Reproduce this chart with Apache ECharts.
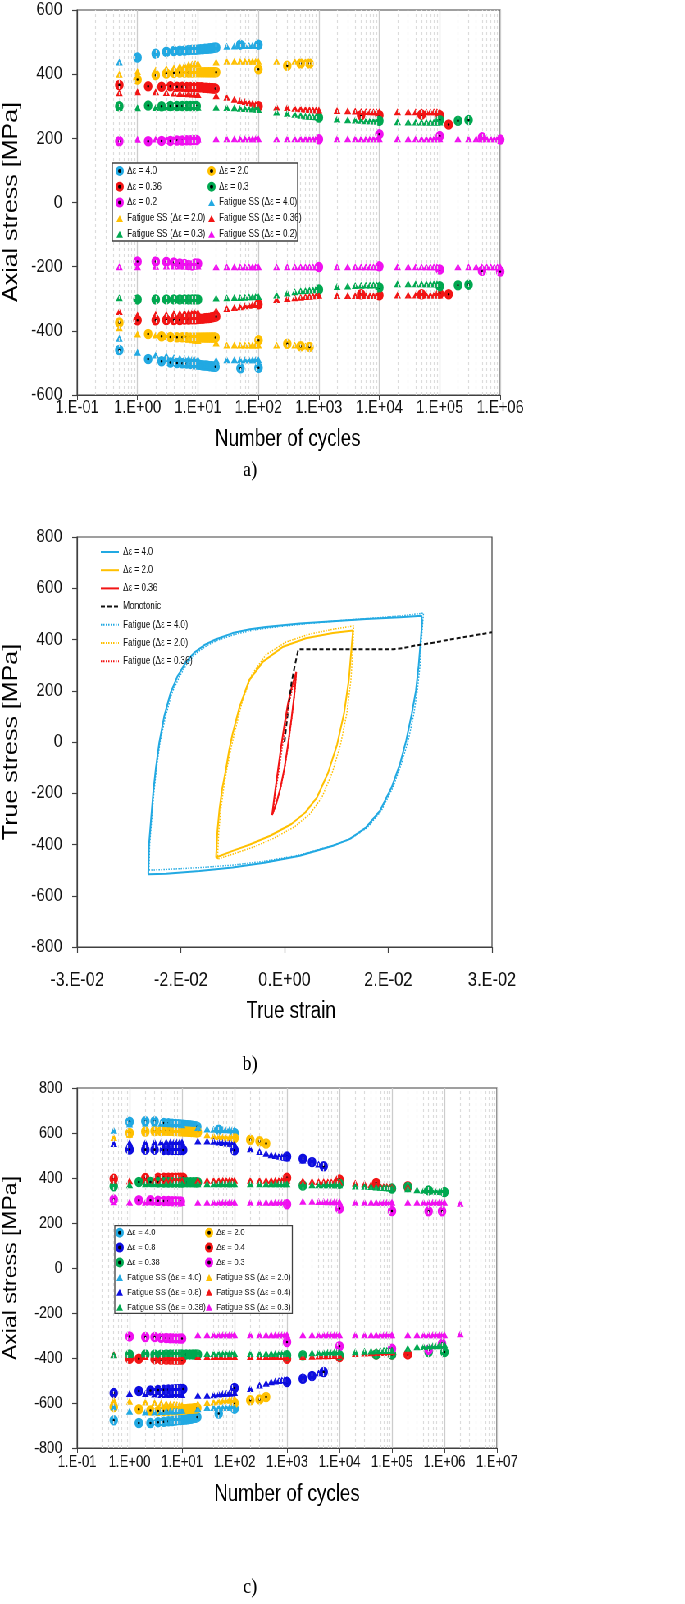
<!DOCTYPE html>
<html>
<head>
<meta charset="utf-8">
<script src="https://cdn.jsdelivr.net/npm/echarts@6/dist/echarts.min.js"></script>
<style>
html, body { margin: 0; padding: 0; background: #fff; overflow: hidden; }
/* the reference figure is squeezed horizontally, so the charts are drawn wider and scaled */
#wrap { position: absolute; left: 0; top: 0; width: 835px; height: 1604px; transform: scaleX(0.82); transform-origin: 0 0; }
.fig { position: absolute; left: 0; width: 835px; }
#fig-a { top: 0; height: 490px; }
#fig-b { top: 490px; height: 585px; }
#fig-c { top: 1075px; height: 529px; }
</style>
</head>
<body>
<div id="wrap">
  <div id="fig-a" class="fig"></div>
  <div id="fig-b" class="fig"></div>
  <div id="fig-c" class="fig"></div>
</div>
<script>
// ---------- data ----------
// cycle counts of the "Fatigue SS" points (value arrays below are aligned with it)
const cyclesSS = [0.5, 1, 2, 3, 4, 5, 6, 7, 8, 9, 10, 20, 30, 40, 50, 60, 70, 80, 90, 100,
  200, 300, 400, 500, 600, 700, 800, 900, 1000, 2000, 3000, 4000, 5000, 6000, 7000, 8000, 9000, 10000,
  20000, 30000, 40000, 50000, 60000, 70000, 80000, 90000, 100000,
  200000, 300000, 400000, 500000, 600000, 700000, 800000, 900000, 1000000, 2000000]

const aTicks = ['1.E-01', '1.E+00', '1.E+01', '1.E+02', '1.E+03', '1.E+04', '1.E+05', '1.E+06']
const cTicks = ['1.E-01', '1.E+00', '1.E+01', '1.E+02', '1.E+03', '1.E+04', '1.E+05', '1.E+06', '1.E+07']
const bTicks = ['-3.E-02', '-2.E-02', '0.E+00', '2.E-02', '3.E-02']

// a) experiments [cycles, stress]
const aExp40 = [[1, 452], [2, 464], [3, 470], [4, 472], [5, 473], [6, 474], [7, 475], [8, 476], [9, 476], [10, 477],
  [11, 478], [12, 478], [13, 479], [14, 479], [15, 480], [16, 481], [17, 481], [18, 482], [19, 482], [20, 483], [50, 492], [100, 492],
  [0.5, -460], [1.5, -488], [2.5, -495], [3.5, -499], [4.5, -500], [5.5, -501], [6.5, -502], [7.5, -503], [8.5, -504], [9.5, -505],
  [10.5, -506], [11.5, -507], [12.5, -508], [13.5, -508], [14.5, -509], [15.5, -510], [16.5, -510], [17.5, -511], [18.5, -511], [19.5, -512],
  [50.5, -517], [100.5, -515]]
const aExp20 = [[1, 383], [2, 397], [3, 402], [4, 404], [5, 405], [6, 405], [7, 405], [8, 405], [9, 406], [10, 406],
  [11, 406], [12, 406], [13, 406], [14, 406], [15, 406], [16, 406], [17, 406], [18, 406], [19, 406], [20, 406],
  [100, 415], [300, 426], [500, 433], [700, 433],
  [0.5, -374], [1.5, -410], [2.5, -417], [3.5, -419], [4.5, -420], [5.5, -420], [6.5, -420], [7.5, -421], [8.5, -421], [9.5, -421],
  [10.5, -421], [11.5, -421], [12.5, -421], [13.5, -421], [14.5, -421], [15.5, -421], [16.5, -421], [17.5, -421], [18.5, -421], [19.5, -421],
  [100.5, -429], [300.5, -440], [500.5, -448], [700.5, -450]]
const aExp036 = [[0.5, 366], [1.5, 362], [2.5, 361], [3.5, 362], [4.5, 361], [5.5, 361], [6.5, 360], [7.5, 360], [8.5, 360], [9.5, 360],
  [10.5, 359], [11.5, 359], [12.5, 358], [13.5, 358], [14.5, 357], [15.5, 357], [16.5, 356], [17.5, 356], [18.5, 355], [19.5, 355],
  [100.5, 300], [5000, 272], [10000, 272], [50000, 274], [100000, 272], [140000, 243],
  [1, -367], [2, -367], [3, -366], [4, -366], [5, -366], [6, -365], [7, -365], [8, -364], [9, -364], [10, -363],
  [11, -362], [12, -362], [13, -361], [14, -360], [15, -360], [16, -359], [17, -358], [18, -357], [19, -356], [20, -355],
  [100, -317], [5000, -286], [10000, -289], [50000, -286], [100000, -284], [140000, -286]]
const aExp03 = [[0.5, 300], [1.5, 302], [2.5, 300], [3.5, 301], [4.5, 301], [5.5, 301], [6.5, 301], [7.5, 301], [8.5, 301], [9.5, 301],
  [1000, 265], [10000, 255], [100000, 257], [200000, 255], [300000, 257],
  [1, -302], [2, -302], [3, -302], [4, -302], [5, -302], [6, -302], [7, -302], [8, -302], [9, -302], [10, -302],
  [1000, -271], [10000, -265], [100000, -261], [200000, -258], [300000, -256]]
const aExp02 = [[0.5, 191], [1.5, 191], [2.5, 192], [3.5, 192], [4.5, 193], [5.5, 193], [6.5, 194], [7.5, 194], [8.5, 195], [9.5, 195],
  [1000, 197], [10000, 213], [100000, 207], [500000, 203], [1000000, 196],
  [1, -184], [2, -184], [3, -185], [4, -187], [5, -190], [6, -192], [7, -195], [8, -196], [9, -190], [10, -190],
  [1000, -201], [10000, -199], [100000, -209], [500000, -213], [1000000, -215]]

// a) Fatigue SS, tension (T) and compression (C) peaks
const aSS40T = [438, 452, 462, 468, 472, 474, 476, 477, 478, 479, 480, 485, 487, 488, 489, 489, 489, 490, 490, 490]
const aSS40C = [-423, -467, -475, -478, -483, -485, -486, -487, -488, -489, -490, -492, -490, -490, -490, -490, -490, -490, -490, -490]
const aSS20T = [400, 408, 413, 418, 420, 425, 428, 430, 432, 433, 433, 438, 440, 440, 440, 440, 440, 440, 440, 440, 440, null, 440, null, 440]
const aSS20C = [-390, -410, -413, -418, -420, -422, -424, -426, -428, -429, -430, -438, -444, -444, -444, -444, -444, -444, -444, -444, -444, null, -444, null, -447]
const aSS036T = [342, 345, 345, 343, 341, 340, 340, 339, 338, 338, 337, 333, 328, 322, 318, 315, 312, 309, 306, 303,
  298, 296, 294, 292, 291, 290, 289, 289, 288, 287, 286, 285, 284, 284, 283, 283, 283, 283,
  283, 283, 283, 283, 283, 283, 283, 283, 283]
const aSS036C = [-340, -351, -348, -348, -345, -345, -344, -344, -343, -343, -343, -337, -330, -327, -325, -322, -320, -318, -316, -315,
  -302, -299, -297, -295, -293, -292, -291, -290, -289, -290, -290, -290, -290, -290, -290, -290, -290, -290,
  -288, -288, -288, -288, -288, -288, -288, -288, -288]
const aSS03T = [296, 295, 296, 297, 297, 298, 298, 298, 297, 297, 297, 297, 296, 295, 294, 293, 292, 292, 291, 290,
  282, 278, 275, 272, 270, 269, 268, 267, 266, 260, 258, 257, 256, 255, 255, 254, 254, 254,
  252, 251, 251, 251, 251, 251, 251, 251, 251]
const aSS03C = [-297, -300, -298, -298, -298, -298, -298, -298, -298, -298, -298, -298, -297, -296, -296, -295, -294, -294, -293, -293,
  -288, -282, -278, -275, -274, -273, -272, -271, -270, -262, -260, -259, -258, -257, -257, -256, -256, -256,
  -253, -253, -253, -253, -253, -253, -253, -253, -253]
const aSS02T = [null, 197, 198, 198, 198, 198, 198, 198, 198, 198, 198, 199, 199, 199, 199, 199, 199, 199, 199, 199,
  199, 199, 199, 199, 199, 199, 199, 199, 199, 199, 199, 199, 199, 199, 199, 199, 199, 199,
  199, 199, 199, 199, 199, 199, 199, 199, 199, 199, 199, 199, 199, 199, 199, 199, 199, 199]
const aSS02C = [-200, -200, -199, -198, -198, -198, -198, -198, -198, -198, -198, -200, -200, -200, -200, -200, -200, -200, -200, -200,
  -200, -200, -200, -200, -200, -200, -200, -200, -200, -200, -200, -200, -200, -200, -200, -200, -200, -200,
  -200, -200, -200, -200, -200, -200, -200, -200, -200, -200, -200, -200, -200, -200, -200, -200, -200, -200]

// b) hysteresis loops [strain, stress]
const bLoop40 = [[-0.0197, -513], [-0.0196, -400], [-0.0193, -300], [-0.0190, -200], [-0.0186, -100], [-0.0181, 0], [-0.0174, 100],
  [-0.0165, 190], [-0.0155, 255], [-0.0143, 310], [-0.0130, 350], [-0.0115, 380], [-0.0100, 400], [-0.0075, 425], [-0.0050, 440],
  [-0.0027, 449], [0.0022, 462], [0.0070, 471], [0.0118, 480], [0.0167, 487], [0.0198, 493],
  [0.0199, 470], [0.0197, 400], [0.0194, 300], [0.0190, 200], [0.0184, 110], [0.0176, 7], [0.0167, -85], [0.0155, -176],
  [0.0138, -268], [0.0118, -333], [0.0094, -379], [0.0070, -405], [0.0022, -444], [-0.0027, -470], [-0.0075, -490],
  [-0.0123, -503], [-0.0171, -514], [-0.0197, -516]]
const bLoop20 = [[-0.0099, -451], [-0.0097, -346], [-0.0094, -260], [-0.0090, -180], [-0.0085, -111], [-0.0080, -30], [-0.0075, 33],
  [-0.0065, 137], [-0.0051, 242], [-0.0031, 314], [-0.0002, 372], [0.0031, 405], [0.0070, 425], [0.0099, 435],
  [0.0097, 372], [0.0093, 242], [0.0086, 111], [0.0076, -10], [0.0063, -120], [0.0047, -216], [0.0030, -275],
  [0.0010, -320], [-0.0020, -365], [-0.0050, -400], [-0.0075, -425], [-0.0099, -451]]
const bLoop036 = [[-0.0018, -285], [-0.0014, -200], [-0.0010, -120], [-0.0005, -20], [0.0000, 70], [0.0005, 150], [0.0010, 210],
  [0.0017, 274], [0.0014, 180], [0.0010, 90], [0.0005, -10], [0.0000, -100], [-0.0006, -180], [-0.0012, -240], [-0.0018, -285]]
const bMono = [[0, 0], [0.0005, 120], [0.0010, 230], [0.0015, 300], [0.0020, 362], [0.0080, 362], [0.0157, 362],
  [0.0170, 366], [0.0190, 377], [0.0210, 385], [0.0250, 405], [0.0300, 428]]
const bFat40 = [[-0.0196, -500], [-0.0195, -400], [-0.0192, -300], [-0.0189, -200], [-0.0185, -100], [-0.0180, 0], [-0.0172, 100],
  [-0.0163, 190], [-0.0152, 255], [-0.0140, 310], [-0.0127, 348], [-0.0112, 377], [-0.0097, 397], [-0.0072, 420], [-0.0047, 436],
  [-0.0022, 446], [0.0025, 460], [0.0072, 472], [0.0120, 482], [0.0168, 492], [0.0201, 503],
  [0.0200, 470], [0.0198, 400], [0.0196, 300], [0.0192, 200], [0.0187, 110], [0.0179, 7], [0.0169, -85], [0.0157, -176],
  [0.0140, -268], [0.0120, -333], [0.0096, -377], [0.0072, -402], [0.0024, -440], [-0.0025, -464], [-0.0073, -480],
  [-0.0121, -490], [-0.0169, -497], [-0.0196, -500]]
const bFat20 = [[-0.0097, -457], [-0.0095, -346], [-0.0092, -260], [-0.0088, -180], [-0.0083, -100], [-0.0077, -20], [-0.0071, 50],
  [-0.0061, 160], [-0.0047, 265], [-0.0027, 340], [0.0002, 390], [0.0035, 420], [0.0070, 440], [0.0100, 453],
  [0.0099, 372], [0.0096, 242], [0.0090, 111], [0.0081, -10], [0.0069, -120], [0.0054, -216], [0.0037, -280],
  [0.0015, -330], [-0.0015, -375], [-0.0045, -410], [-0.0072, -435], [-0.0097, -457]]
const bFat036 = [[-0.0017, -280], [-0.0013, -195], [-0.0008, -110], [-0.0003, -15], [0.0002, 75], [0.0007, 155], [0.0012, 215],
  [0.0017, 270], [0.0015, 200], [0.0011, 105], [0.0006, 0], [0.0001, -90], [-0.0005, -175], [-0.0011, -235], [-0.0017, -280]]

// c) experiments [cycles, stress]
const cExp40 = [[1, 650], [2, 652], [3, 652], [4.5, 645], [5.5, 643], [6.5, 641], [7.5, 640], [8.5, 639], [9.5, 638], [10.5, 637],
  [11.5, 636], [12.5, 635], [13.5, 634], [14.5, 633], [15.5, 632], [16.5, 631], [17.5, 630], [18.5, 629], [19.5, 628], [50, 615], [100, 600],
  [0.5, -677], [1.5, -689], [2.5, -689], [3.5, -685], [4.5, -683], [5.5, -681], [6.5, -680], [7.5, -678], [8.5, -676], [9.5, -675],
  [10.5, -674], [11.5, -673], [12.5, -672], [13.5, -671], [14.5, -670], [15.5, -668], [16.5, -667], [17.5, -666], [18.5, -664], [19.5, -662],
  [50, -647], [100, -625]]
const cExp20 = [[1, 600], [2, 607], [3, 609], [4, 609], [5, 610], [6, 610], [7, 609], [8, 609], [9, 608], [10, 608],
  [11, 607], [12, 607], [13, 606], [14, 606], [15, 605], [16, 605], [17, 604], [18, 604], [19, 603], [20, 603],
  [100, 578], [200, 570], [300, 563], [400, 553],
  [0.5, -618], [1.5, -628], [2.5, -633], [3.5, -636], [4.5, -635], [5.5, -634], [6.5, -633], [7.5, -632], [8.5, -631], [9.5, -630],
  [10.5, -629], [11.5, -628], [12.5, -627], [13.5, -626], [14.5, -626], [15.5, -625], [16.5, -624], [17.5, -623], [18.5, -623], [19.5, -622],
  [100, -600], [200, -588], [300, -584], [400, -573]]
const cExp08 = [[1, 527], [2, 526], [3, 526], [4.5, 525], [5.5, 525], [6.5, 525], [7.5, 525], [8.5, 525], [9.5, 525], [10.5, 525],
  [100, 523], [1000, 496], [2000, 486], [3000, 471], [5000, 452],
  [0.5, -556], [1.5, -547], [2.5, -544], [3.5, -542], [4.5, -541], [5.5, -540], [6.5, -540], [7.5, -539], [8.5, -539], [9.5, -538],
  [10.5, -538], [100, -533], [1000, -507], [2000, -492], [3000, -480], [5000, -462]]
const cExp04 = [[0.5, 397], [2, 400], [3.5, 401], [4.5, 401], [5.5, 401], [6.5, 401], [7.5, 401], [8.5, 401], [9.5, 401], [10.5, 401],
  [1000, 401], [10000, 393], [50000, 378], [200000, 363],
  [1, -403], [1.5, -403], [3, -405], [4, -407], [5, -407], [6, -407], [7, -407], [8, -407], [9, -407], [10, -407],
  [1000, -403], [10000, -396], [50000, -384], [100000, -384], [200000, -384]]
const cExp038 = [[0.5, 363], [1.5, 382], [2.5, 382], [3.5, 381], [4.5, 381], [5.5, 381], [6.5, 381], [7.5, 381], [8.5, 381], [9.5, 381],
  [10.5, 381], [12.5, 381], [14.5, 381], [16.5, 381], [18.5, 381], [20, 381],
  [2000, 367], [10000, 375], [100000, 353], [200000, 360], [500000, 345], [1000000, 338],
  [1, -384], [2, -384], [3, -384], [4, -384], [5, -384], [6, -384], [7, -384], [8, -384], [9, -384], [10, -384],
  [12, -384], [14, -384], [16, -384], [18, -384], [20, -384],
  [1000, -388], [2000, -388], [10000, -388], [50000, -384], [100000, -384], [500000, -373], [1000000, -373]]
const cExp03 = [[0.5, 305], [1.5, 301], [2.5, 301], [3.5, 299], [4.5, 298], [5.5, 298], [6.5, 297], [7.5, 297], [8.5, 296], [9.5, 296],
  [1000, 283], [10000, 264], [100000, 253], [500000, 252], [900000, 252],
  [1, -304], [2, -307], [3, -307], [4, -310], [5, -311], [6, -312], [7, -312], [8, -313], [9, -313], [10, -313],
  [1000, -329], [10000, -348], [100000, -359], [500000, -363], [900000, -336]]

// c) Fatigue SS
const cSS40T = [612, 640, 645, 645, 643, 642, 641, 640, 639, 638, 637, 625, 618, 617, 616, 616, 615, 615, 615, 615]
const cSS40C = [-617, -637, -640, -640, -638, -637, -636, -635, -634, -633, -632, -625, -620, -620, -620, -620, -620, -620, -620, -620]
const cSS20T = [580, 595, 603, 605, 605, 605, 605, 605, 604, 604, 604, 600, 592, 588, 585, 583, 581, 580, 579, 578]
const cSS20C = [-585, -592, -595, -598, -600, -602, -604, -606, -607, -608, -610, -603, -598, -595, -592, -590, -588, -586, -583, -580]
const cSS08T = [553, 557, 558, 560, 560, 560, 560, 560, 560, 560, 560, 565, 565, 563, 560, 558, 556, 554, 552, 550,
  530, 518, 510, 503, 500, 497, 494, 492, 490, 480, 470, 462]
const cSS08C = [null, -558, -558, -560, -562, -562, -562, -562, -562, -562, -562, -565, -565, -563, -560, -558, -557, -556, -555, -553,
  -535, -520, -512, -505, -502, -500, -498, -496, -495, -480, -473, -465]
const cSS04T = [390, 388, 390, 390, 390, 390, 390, 390, 390, 390, 390, 390, 390, 390, 390, 390, 390, 390, 390, 390,
  390, 390, 390, 390, 390, 390, 390, 390, 390, 388, 386, 385, 384, 383, 383, 382, 382, 382,
  378, 374, 371, 369, 367, 365, 363, 361, 360, 360]
const cSS04C = [-383, -395, -393, -393, -393, -393, -393, -393, -393, -393, -393, -393, -393, -393, -393, -393, -393, -393, -393, -393,
  -393, -393, -393, -393, -393, -393, -393, -393, -393, -393, -392, -391, -390, -390, -389, -389, -388, -388,
  -380, -378, -377, -376, -375, -374, -373, -372, -372, -370]
const cSS038T = [368, 370, 374, 374, 374, 374, 374, 374, 374, 374, 374, 374, 374, 374, 374, 374, 374, 374, 374, 374,
  374, 374, 374, 374, 374, 374, 374, 374, 374, 372, 370, 370, 370, 370, 370, 370, 370, 370,
  365, 363, 362, 360, 359, 358, 357, 356, 355, 352, 348, 346, 344, 342, 341, 340, 339, 338]
const cSS038C = [-385, -384, -380, -380, -380, -380, -380, -380, -380, -380, -380, -380, -380, -380, -380, -380, -380, -380, -380, -380,
  -380, -380, -380, -380, -380, -380, -380, -380, -380, -378, -377, -376, -375, -374, -374, -373, -373, -372,
  -372, -370, -369, -368, -367, -366, -366, -365, -365, -357, -350, -349, -348, -346, -345, -343, -342, -340]
const cSS03T = [295, 292, 292, 292, 292, 292, 292, 292, 292, 292, 292, 292, 292, 292, 292, 292, 292, 292, 292, 292,
  292, 292, 292, 292, 292, 292, 292, 292, 292, 297, 297, 296, 296, 295, 295, 295, 295, 295,
  292, 292, 292, 292, 292, 292, 292, 292, 292, 292, 292, 292, 292, 292, 292, 292, 292, 292, 288]
const cSS03C = [null, null, null, null, null, null, null, null, null, null, null, -297, -297, -297, -297, -297, -297, -297, -297, -297,
  -297, -297, -297, -297, -297, -297, -297, -297, -297, -297, -297, -297, -297, -297, -297, -297, -297, -297,
  -297, -297, -297, -297, -297, -297, -297, -297, -297, -297, -297, -297, -297, -297, -297, -297, -297, -297, -292]

// ---------- styling ----------
const FONT = "'Liberation Sans', Arial, sans-serif"
const SERIF = "'Liberation Serif', 'Times New Roman', serif"
const AXIS = '#404040'
const TXT = '#111'
const LBLUE = '#22A9E2'
const GOLD = '#FFC000'
const RED = '#F21414'
const GREEN = '#00A850'
const MAGENTA = '#F010F0'
const DBLUE = '#0D0DE0'

function pairs(ns, vals) {
  const out = []
  vals.forEach((v, i) => { if (v !== null) out.push([ns[i], v]) })
  return out
}

function expSeries(name, color, data) {
  return {
    name, type: 'scatter', data, symbol: 'circle', symbolSize: 6.5, z: 3,
    itemStyle: { color: '#000', borderColor: color, borderWidth: 4, opacity: 1 },
  }
}

function ssSeries(name, color, t, c) {
  return {
    name, type: 'scatter', data: pairs(cyclesSS, t).concat(pairs(cyclesSS, c)),
    symbol: 'triangle', symbolSize: [8.5, 7], z: 4, itemStyle: { color, opacity: 1 },
  }
}

function lineSeries(name, color, data, type, width) {
  return {
    name, type: 'line', data, symbol: 'none', showSymbol: false, z: 3,
    lineStyle: { color, width, type }, itemStyle: { color },
  }
}

// dashed minor grid lines at 2..9 of every decade
function minorGrid(decades) {
  const lines = []
  decades.forEach(d => {
    for (let k = 2; k <= 9; k++) lines.push({ xAxis: d * k })
  })
  return {
    type: 'line', data: [[1, 0]], showSymbol: false, lineStyle: { opacity: 0 }, silent: true, z: 1,
    markLine: {
      silent: true, symbol: ['none', 'none'], label: { show: false }, animation: false,
      lineStyle: { color: '#dcdcdc', type: [3, 3], width: 1.2 }, data: lines,
    },
  }
}

function cyclesAxis(max, labels, fontSize, margin) {
  return {
    type: 'log', logBase: 10, min: 0.1, max,
    axisLine: { show: true, onZero: false, lineStyle: { color: AXIS, width: 1 } },
    axisTick: { show: true, length: 5, lineStyle: { color: AXIS } },
    axisLabel: {
      fontSize, fontFamily: FONT, color: TXT, margin, showMinLabel: true, showMaxLabel: true,
      formatter: v => labels[Math.round(Math.log10(v)) + 1],
    },
    splitLine: { show: true, lineStyle: { color: '#cccccc', width: 1.3 } },
  }
}

function stressAxis(lim, fontSize) {
  return {
    type: 'value', min: -lim, max: lim, interval: 200,
    axisLine: { show: true, onZero: false, lineStyle: { color: AXIS, width: 1.2 } },
    axisTick: { show: true, length: 6, lineStyle: { color: AXIS, width: 1.2 } },
    axisLabel: { fontSize, fontFamily: FONT, color: TXT, margin: 18 },
    splitLine: { show: false },
  }
}

function legendCol(names, left, top, gap, fontSize) {
  return {
    orient: 'vertical', left, top, padding: 0, itemGap: gap, itemWidth: 8, itemHeight: 7,
    selectedMode: false, z: 20,
    textStyle: { fontSize, fontFamily: FONT, color: TXT, lineHeight: 12 },
    data: names.map(n => (n.startsWith('Fatigue') ? { name: n } : { name: n, itemStyle: { borderWidth: 3 } })),
  }
}

function text(str, x, y, size, rotate, family) {
  return {
    type: 'text', x, y, rotation: rotate ? Math.PI / 2 : 0, z: 30,
    style: {
      text: str, fontSize: size, fontFamily: family || FONT, fill: '#000',
      textAlign: 'center', textVerticalAlign: 'middle', align: 'center', verticalAlign: 'middle',
    },
  }
}

function box(x, y, w, h) {
  return { type: 'rect', z: 15, shape: { x, y, width: w, height: h }, style: { fill: '#fff', stroke: AXIS, lineWidth: 1.3 } }
}

// ---------- a) ----------
const chartA = echarts.init(document.getElementById('fig-a'))
chartA.setOption({
  animation: false,
  grid: { left: 94, top: 10, width: 516, height: 385, show: true, borderColor: AXIS, borderWidth: 1.2 },
  xAxis: cyclesAxis(1e6, aTicks, 18, 4),
  yAxis: stressAxis(600, 19),
  legend: [
    legendCol(['Δε = 4.0', 'Δε = 0.36', 'Δε = 0.2', 'Fatigue SS (Δε = 2.0)', 'Fatigue SS (Δε = 0.3)'], 141, 165, 3.8, 10),
    legendCol(['Δε = 2.0', 'Δε = 0.3', 'Fatigue SS (Δε = 4.0)', 'Fatigue SS (Δε = 0.36)', 'Fatigue SS (Δε = 0.2)'], 253, 165, 3.8, 10),
  ],
  graphic: [
    box(137, 163, 226, 78),
    text('Number of cycles', 351, 440, 23),
    text('Axial stress [MPa]', 14, 202, 25, true),
    text('a)', 305, 470, 22, false, SERIF),
  ],
  series: [
    minorGrid([0.1, 1, 10, 100, 1000, 10000, 100000]),
    expSeries('Δε = 4.0', LBLUE, aExp40),
    expSeries('Δε = 2.0', GOLD, aExp20),
    expSeries('Δε = 0.36', RED, aExp036),
    expSeries('Δε = 0.3', GREEN, aExp03),
    expSeries('Δε = 0.2', MAGENTA, aExp02),
    ssSeries('Fatigue SS (Δε = 4.0)', LBLUE, aSS40T, aSS40C),
    ssSeries('Fatigue SS (Δε = 2.0)', GOLD, aSS20T, aSS20C),
    ssSeries('Fatigue SS (Δε = 0.36)', RED, aSS036T, aSS036C),
    ssSeries('Fatigue SS (Δε = 0.3)', GREEN, aSS03T, aSS03C),
    ssSeries('Fatigue SS (Δε = 0.2)', MAGENTA, aSS02T, aSS02C),
  ],
})

// ---------- b) ----------
const chartB = echarts.init(document.getElementById('fig-b'))
chartB.setOption({
  animation: false,
  grid: { left: 94, top: 47, width: 506, height: 410, show: true, borderColor: AXIS, borderWidth: 1.2 },
  xAxis: {
    type: 'value', min: -0.03, max: 0.03, interval: 0.015,
    axisLine: { show: true, onZero: false, lineStyle: { color: AXIS, width: 1.2 } },
    axisTick: { show: true, length: 6, lineStyle: { color: AXIS, width: 1.2 } },
    axisLabel: {
      fontSize: 20, fontFamily: FONT, color: TXT, margin: 23, showMinLabel: true, showMaxLabel: true,
      formatter: v => bTicks[Math.round((v + 0.03) / 0.015)],
    },
    splitLine: { show: false },
  },
  yAxis: stressAxis(800, 19),
  legend: {
    orient: 'vertical', left: 122, top: 56, padding: 0, itemGap: 6.2, itemWidth: 22, itemHeight: 10,
    selectedMode: false, z: 20,
    // hide the marker dot that line series put on their legend icon
    itemStyle: { opacity: 0 },
    textStyle: { fontSize: 10, fontFamily: FONT, color: TXT, lineHeight: 12 },
    data: ['Δε = 4.0', 'Δε = 2.0', 'Δε = 0.36', 'Monotonic', 'Fatigue (Δε = 4.0)', 'Fatigue (Δε = 2.0)', 'Fatigue (Δε = 0.36)'],
  },
  graphic: [
    text('True strain', 355, 522, 23),
    text('True stress [MPa]', 14, 252, 25, true),
    text('b)', 305, 574, 22, false, SERIF),
  ],
  series: [
    lineSeries('Δε = 4.0', LBLUE, bLoop40, 'solid', 2),
    lineSeries('Δε = 2.0', GOLD, bLoop20, 'solid', 2),
    lineSeries('Δε = 0.36', RED, bLoop036, 'solid', 2),
    lineSeries('Monotonic', '#111', bMono, [5, 3], 2),
    lineSeries('Fatigue (Δε = 4.0)', LBLUE, bFat40, [1.5, 1.5], 1.5),
    lineSeries('Fatigue (Δε = 2.0)', GOLD, bFat20, [1.5, 1.5], 1.5),
    lineSeries('Fatigue (Δε = 0.36)', RED, bFat036, [1.5, 1.5], 1.5),
  ],
})

// ---------- c) ----------
const chartC = echarts.init(document.getElementById('fig-c'))
chartC.setOption({
  animation: false,
  grid: { left: 94, top: 13, width: 512, height: 360, show: true, borderColor: AXIS, borderWidth: 1.2 },
  xAxis: cyclesAxis(1e7, cTicks, 16, 7),
  yAxis: stressAxis(800, 17),
  legend: [
    legendCol(['Δε = 4.0', 'Δε = 0.8', 'Δε = 0.38', 'Fatigue SS (Δε = 4.0)', 'Fatigue SS (Δε = 0.8)', 'Fatigue SS (Δε = 0.38)'], 141, 151.7, 2.9, 9.5),
    legendCol(['Δε = 2.0', 'Δε = 0.4', 'Δε = 0.3', 'Fatigue SS (Δε = 2.0)', 'Fatigue SS (Δε = 0.4)', 'Fatigue SS (Δε = 0.3)'], 250, 151.7, 2.9, 9.5),
  ],
  graphic: [
    box(140, 150.7, 216.5, 87.6),
    text('Number of cycles', 350, 420, 23),
    text('Axial stress [MPa]', 14, 193, 23, true),
    text('c)', 305, 512, 22, false, SERIF),
  ],
  series: [
    minorGrid([0.1, 1, 10, 100, 1000, 10000, 100000, 1000000]),
    expSeries('Δε = 4.0', LBLUE, cExp40),
    expSeries('Δε = 2.0', GOLD, cExp20),
    expSeries('Δε = 0.8', DBLUE, cExp08),
    expSeries('Δε = 0.4', RED, cExp04),
    expSeries('Δε = 0.38', GREEN, cExp038),
    expSeries('Δε = 0.3', MAGENTA, cExp03),
    ssSeries('Fatigue SS (Δε = 4.0)', LBLUE, cSS40T, cSS40C),
    ssSeries('Fatigue SS (Δε = 2.0)', GOLD, cSS20T, cSS20C),
    ssSeries('Fatigue SS (Δε = 0.8)', DBLUE, cSS08T, cSS08C),
    ssSeries('Fatigue SS (Δε = 0.4)', RED, cSS04T, cSS04C),
    ssSeries('Fatigue SS (Δε = 0.38)', GREEN, cSS038T, cSS038C),
    ssSeries('Fatigue SS (Δε = 0.3)', MAGENTA, cSS03T, cSS03C),
  ],
})
</script>
</body>
</html>
